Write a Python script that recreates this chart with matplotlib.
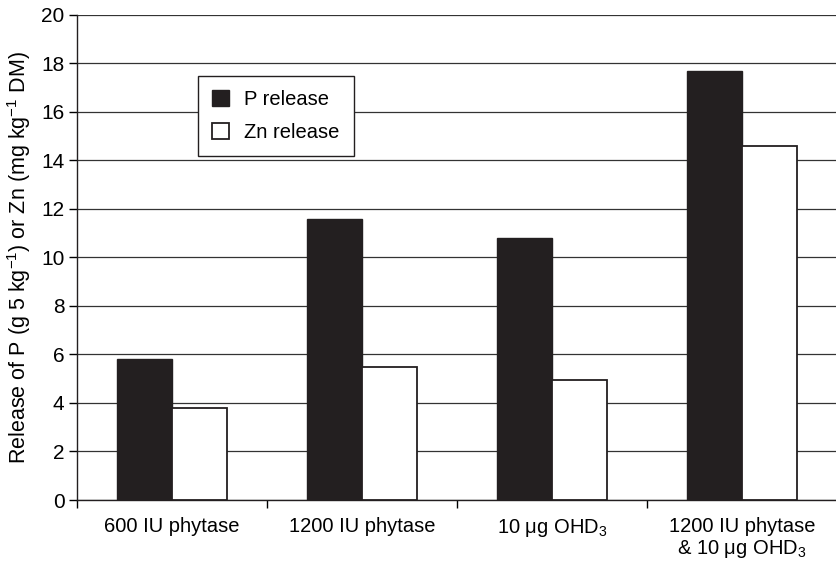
import matplotlib
matplotlib.use('Agg')
from matplotlib import pyplot as plt
import numpy as np

plt.rcParams['font.family'] = ['Liberation Sans', 'DejaVu Sans']
plt.rcParams['mathtext.fontset'] = 'custom'
plt.rcParams['mathtext.rm'] = 'Liberation Sans'
plt.rcParams['mathtext.it'] = 'Liberation Sans'
plt.rcParams['mathtext.default'] = 'regular'

categories = ['600 IU phytase', '1200 IU phytase', '10 μg OHD$_3$',
              '1200 IU phytase\n& 10 μg OHD$_3$']
p_release = [5.8, 11.6, 10.8, 17.7]
zn_release = [3.8, 5.5, 4.95, 14.6]
yticks = list(range(0, 21, 2))

BAR_W = 0.29

fig = plt.figure(figsize=(8.37, 5.66), dpi=100)
ax = fig.add_axes([0.092, 0.1166, 0.908, 0.857])

x = np.arange(len(categories))
ax.bar(x - BAR_W/2, p_release, BAR_W, color='#231f20', edgecolor='#231f20',
       linewidth=1, label='P release', zorder=3)
ax.bar(x + BAR_W/2, zn_release, BAR_W, color='white', edgecolor='#231f20',
       linewidth=1.3, label='Zn release', zorder=3)

ax.set_xlim(-0.5, len(categories) - 0.5)
ax.set_ylim(0, 20)
ax.set_yticks(yticks)
ax.yaxis.grid(True, color='#333333', linewidth=0.9, zorder=0)

# category labels centred, tick marks at group boundaries
ax.set_xticks(x)
ax.set_xticklabels(categories, fontsize=14.5, linespacing=1.15)
ax.tick_params(axis='x', which='major', length=0, pad=12)
ax.set_xticks(np.arange(-0.5, len(categories)), minor=True)
ax.tick_params(axis='x', which='minor', length=6, width=1, direction='out')
ax.tick_params(axis='y', labelsize=15, length=6, width=1, direction='out', pad=3)

for s in ['top', 'right']:
    ax.spines[s].set_visible(False)
for s in ['left', 'bottom']:
    ax.spines[s].set_linewidth(1)
    ax.spines[s].set_color('#231f20')

ax.set_ylabel('Release of P (g 5 kg$^{-1}$) or Zn (mg kg$^{-1}$ DM)', fontsize=15.5,
              labelpad=6)

leg = ax.legend(loc='upper left', bbox_to_anchor=(0.159, 0.875), fontsize=14.5,
                frameon=True, fancybox=False, edgecolor='#231f20',
                handlelength=0.85, handleheight=0.85, borderpad=0.7,
                labelspacing=0.7, handletextpad=0.75, borderaxespad=0)
leg.get_frame().set_linewidth(1)
leg.get_frame().set_alpha(1)

fig.savefig('out.png', dpi=100)
